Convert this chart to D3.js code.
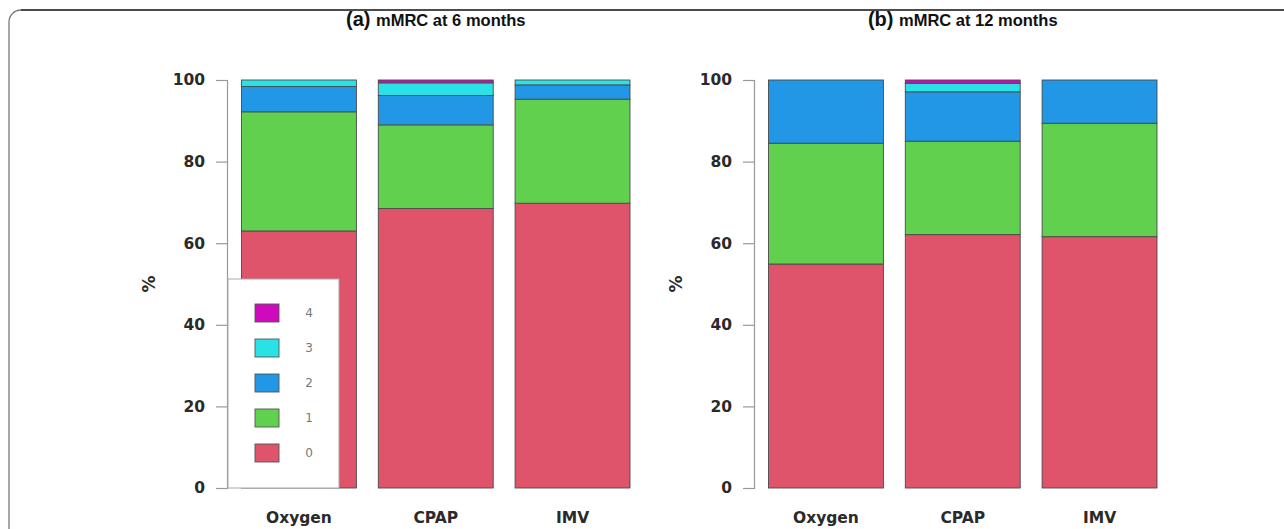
<!DOCTYPE html>
<html>
<head>
<meta charset="utf-8">
<script src="https://cdn.jsdelivr.net/npm/d3@7"></script>
<style>
  html, body { margin: 0; padding: 0; background: #fff; }
  svg { display: block; }
</style>
</head>
<body>
<svg id="chart" width="1284" height="529"></svg>
<script>
// ---------------- data ----------------
const categories = ["Oxygen", "CPAP", "IMV"];
const levels = ["0", "1", "2", "3", "4"];
const yTicks = [0, 20, 40, 60, 80, 100];

// mMRC at 6 months (% per grade)
const m6_grade0 = [63.0, 68.5, 69.8];
const m6_grade1 = [29.2, 20.5, 25.5];
const m6_grade2 = [6.2, 7.2, 3.5];
const m6_grade3 = [1.6, 3.1, 1.2];
const m6_grade4 = [0.0, 0.7, 0.0];

// mMRC at 12 months (% per grade)
const m12_grade0 = [54.9, 62.1, 61.6];
const m12_grade1 = [29.6, 22.9, 27.8];
const m12_grade2 = [15.5, 12.1, 10.6];
const m12_grade3 = [0.0, 2.1, 0.0];
const m12_grade4 = [0.0, 0.8, 0.0];

const colors = ["#DF536B", "#61D04F", "#2297E6", "#28E2E5", "#CD0BBC"];

// ---------------- drawing ----------------
const svg = d3.select("#chart");

// frame with rounded top-left corner
svg.append("path")
  .attr("d", "M9,529 L9,22 A12,12 0 0 1 21,10")
  .attr("fill", "none").attr("stroke", "#777").attr("stroke-width", 1.3);
svg.append("path")
  .attr("d", "M21,10 L1284,10")
  .attr("fill", "none").attr("stroke", "#111").attr("stroke-width", 1.3);

function buildRows(g0, g1, g2, g3, g4) {
  return categories.map((c, i) => ({ cat: c, "0": g0[i], "1": g1[i], "2": g2[i], "3": g3[i], "4": g4[i] }));
}

const panels = [
  { label: "(a)", title: "mMRC at 6 months", rows: buildRows(m6_grade0, m6_grade1, m6_grade2, m6_grade3, m6_grade4), dx: 0, legend: true },
  { label: "(b)", title: "mMRC at 12 months", rows: buildRows(m12_grade0, m12_grade1, m12_grade2, m12_grade3, m12_grade4), dx: 527, legend: false }
];

const y = d3.scaleLinear().domain([0, 100]).range([488, 80]);
const tickFont = "'DejaVu Sans', sans-serif";

panels.forEach(p => {
  const g = svg.append("g").attr("transform", `translate(${p.dx},0)`);
  const x = d3.scaleBand().domain(categories).range([241.5, 630]).paddingInner(0.16).paddingOuter(0);

  const stack = d3.stack().keys(levels)(p.rows);

  // bars
  stack.forEach((layer, li) => {
    g.append("g").selectAll("rect").data(layer).join("rect")
      .attr("x", d => x(d.data.cat))
      .attr("width", x.bandwidth())
      .attr("y", d => y(d[1]))
      .attr("height", d => Math.max(0, y(d[0]) - y(d[1])))
      .attr("fill", colors[li])
      .attr("stroke", d => (d[1] - d[0]) > 0 ? "#4a4a4a" : "none")
      .attr("stroke-width", 0.9);
  });

  // y axis
  const ax = g.append("g").attr("transform", "translate(227,0)")
    .call(d3.axisLeft(y).tickValues(yTicks).tickSize(11).tickPadding(11).tickFormat(d3.format("d")));
  ax.select(".domain").attr("stroke", "#999").attr("stroke-width", 1.2);
  ax.selectAll(".tick line").attr("stroke", "#999").attr("stroke-width", 1.2);
  ax.selectAll(".tick text")
    .attr("font-family", tickFont).attr("font-weight", "bold")
    .attr("font-size", 15.5).attr("fill", "#2a2a2a");

  // y label
  g.append("text")
    .attr("transform", "translate(155,284) rotate(-90)")
    .attr("text-anchor", "middle")
    .attr("font-family", tickFont).attr("font-weight", "bold")
    .attr("font-size", 17).attr("fill", "#2a2a2a")
    .text("%");

  // x labels
  g.append("g").selectAll("text").data(categories).join("text")
    .attr("x", d => x(d) + x.bandwidth() / 2)
    .attr("y", 523)
    .attr("text-anchor", "middle")
    .attr("font-family", tickFont).attr("font-weight", "bold")
    .attr("font-size", 15.5).attr("fill", "#2a2a2a")
    .text(d => d);

  // title
  const cx = (x.range()[0] + x.range()[1]) / 2;
  const t = g.append("text")
    .attr("x", cx).attr("y", 26)
    .attr("text-anchor", "middle")
    .attr("font-family", "'Liberation Sans', Arial, sans-serif")
    .attr("font-weight", "bold").attr("fill", "#111");
  t.append("tspan").attr("font-size", 20).text(p.label + " ");
  t.append("tspan").attr("font-size", 16.5).text(p.title);

  // legend
  if (p.legend) {
    const lg = g.append("g");
    lg.append("rect")
      .attr("x", 228).attr("y", 279).attr("width", 111).attr("height", 209)
      .attr("fill", "#fff").attr("stroke", "#aaa").attr("stroke-width", 1);
    const order = levels.slice().reverse();
    const ly = d3.scalePoint().domain(order).range([313, 453]);
    order.forEach(k => {
      const idx = levels.indexOf(k);
      lg.append("rect")
        .attr("x", 255).attr("y", ly(k) - 9).attr("width", 24).attr("height", 18)
        .attr("fill", colors[idx]).attr("stroke", "#555").attr("stroke-width", 0.9);
      lg.append("text")
        .attr("x", 309).attr("y", ly(k) + 4)
        .attr("text-anchor", "middle")
        .attr("font-family", tickFont).attr("font-size", 12).attr("fill", "#777")
        .text(k);
    });
  }
});
</script>
</body>
</html>
